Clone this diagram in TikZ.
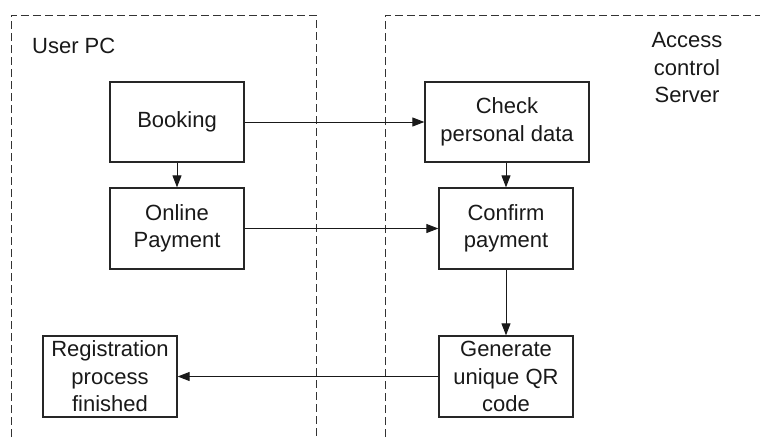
\documentclass[tikz,border=0pt]{standalone}
\usepackage{fontspec}
\setmainfont{Liberation Sans}
\usetikzlibrary{arrows.meta}
\begin{document}
\begin{tikzpicture}[x=1pt,y=-1pt,
  box/.style={draw=black!85,line width=1.3pt,minimum width=#1,inner sep=0pt,align=center,font=\fontsize{22}{27.5}\selectfont,text=black!90},
  box/.default=134pt,
  lane/.style={draw=black!80,line width=0.9pt,dash pattern=on 8pt off 4pt},
  arr/.style={draw=black!90,line width=1pt,-{Triangle[length=12pt,width=9pt]}},
  lbl/.style={font=\fontsize{22}{27.5}\selectfont,text=black!90,inner sep=0pt,align=center}]
\useasboundingbox (0,0) rectangle (760,437);
% lanes
\draw[lane] (11,437) -- (11,15) -- (316,15) -- (316,437);
\draw[lane] (385,437) -- (385,15) -- (760,15);
\node[lbl,anchor=west] (user) at (32,46) {User PC};
\node[lbl] (server) at (687,68) {Access\\control\\Server};
% nodes
\node[box=134pt,minimum height=80pt] (booking) at (177,122) {Booking};
\node[box=134pt,minimum height=81pt] (online) at (177,228.5) {Online\\Payment};
\node[box=164pt,minimum height=80pt] (check) at (507,122) {Check\\personal data};
\node[box=134pt,minimum height=81pt] (confirm) at (506,228.5) {Confirm\\payment};
\node[box=134pt,minimum height=81pt] (generate) at (506,376.5) {Generate\\unique QR\\code};
\node[box=134pt,minimum height=81pt] (reg) at (110,376.5) {Registration\\process\\finished};
% connectors
\draw[arr] (booking.east) -- (check.west);
\draw[arr] (booking.south) -- (online.north);
\draw[arr] (online.east) -- (confirm.west);
\draw[arr] (check.south -| confirm.north) -- (confirm.north);
\draw[arr] (confirm.south) -- (generate.north);
\draw[arr] (generate.west) -- (reg.east);
\end{tikzpicture}
\end{document}
